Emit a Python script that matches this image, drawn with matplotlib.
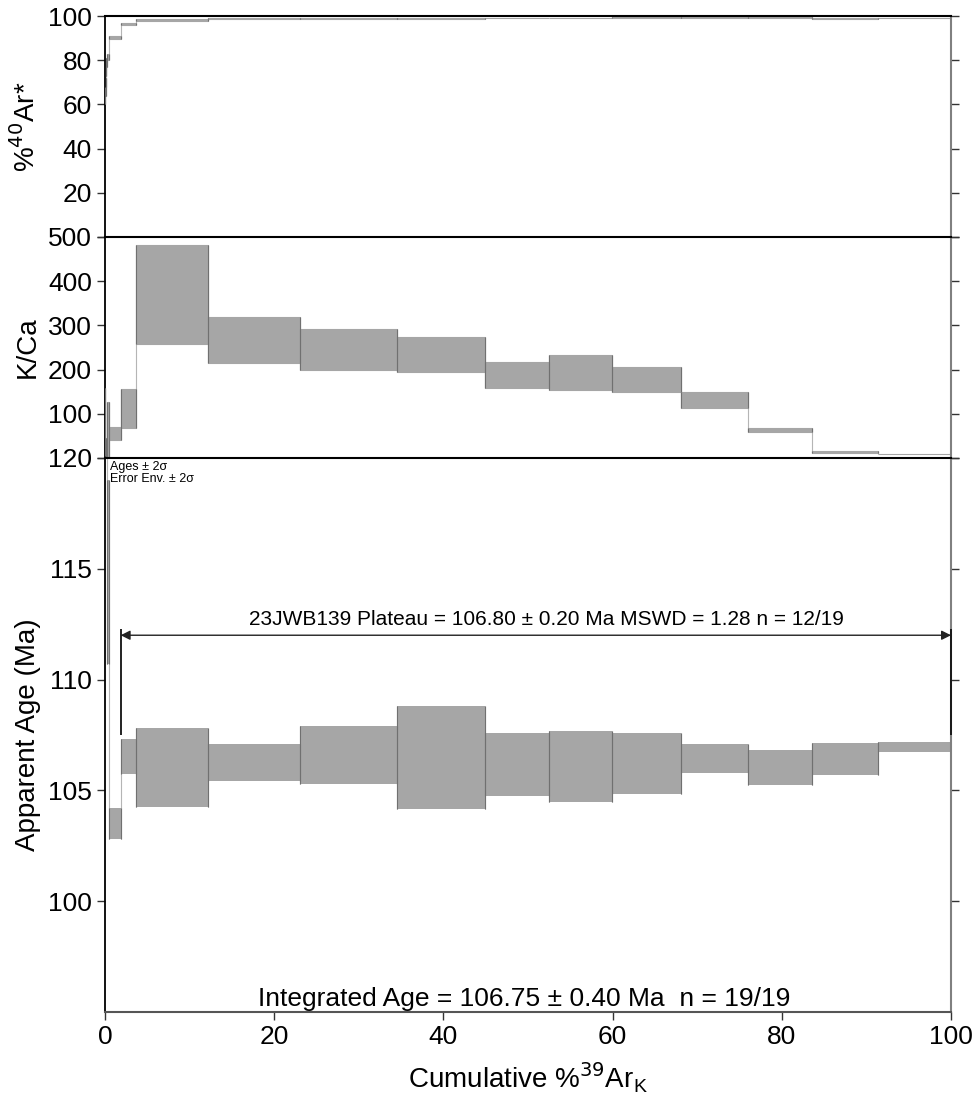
import numpy as np
import matplotlib.pyplot as plt

plt.rcParams['font.family'] = ['Liberation Sans', 'DejaVu Sans']

# cumulative %39ArK step edges, 19 heating steps
cum_edges = [0, 0.03, 0.07, 0.11, 0.16, 0.22, 0.48, 1.85, 3.7, 12.2, 23.0, 34.5,
             44.9, 52.5, 59.9, 68.1, 76.0, 83.6, 91.4, 100]

# %40Ar* (lower / upper)
ar40_lo = [60, 64, 68, 73, 77, 80, 89.5, 95.8, 97.9, 98.8, 98.7, 98.8, 98.9,
           98.9, 99.0, 99.0, 99.0, 98.7, 98.9]
ar40_hi = [64, 68, 72, 77, 81, 83, 90.8, 96.8, 98.6, 99.3, 99.1, 99.3, 99.3,
           99.3, 99.4, 99.4, 99.4, 99.1, 99.3]

# K/Ca (lower / upper)
kca_lo = [20, 5, 0, 2, 0, 0, 41, 68, 257, 214, 199, 194, 158, 153, 149, 113, 59, 11, 8]
kca_hi = [158, 45, 40, 42, 38, 126, 70, 156, 481, 318, 291, 273, 217, 232, 205, 149, 68, 15, 10]

# apparent age, Ma (lower / upper, 2 sigma)
age_lo = [128, 124, 122, 121, 120.5, 110.7, 102.8, 105.75, 104.25, 105.4, 105.3, 104.16,
          104.76, 104.48, 104.84, 105.8, 105.25, 105.7, 106.74]
age_hi = [175, 150, 140, 133, 126, 119.0, 104.2, 107.3, 107.8, 107.1, 107.9, 108.8,
          107.6, 107.7, 107.6, 107.1, 106.83, 107.15, 107.19]

plateau_start = 1.85
plateau_age = 112.0

FILL = '#a6a6a6'


def draw_steps(ax, lo, hi, thin=False):
    x = np.array(cum_edges[:-1])
    w = np.diff(cum_edges)
    lo = np.array(lo, dtype=float)
    hi = np.array(hi, dtype=float)
    # connecting lines between steps
    for i in range(len(lo) - 1):
        ax.vlines(cum_edges[i + 1], min(lo[i], lo[i + 1]), max(hi[i], hi[i + 1]),
                  color='#b5b5b5', lw=0.8, zorder=1)
    if thin:
        ax.bar(x, hi - lo, bottom=lo, width=w, align='edge', color=FILL,
               edgecolor=FILL, lw=0.8, zorder=2)
    else:
        ax.bar(x, hi - lo, bottom=lo, width=w, align='edge', color=FILL,
               edgecolor='none', zorder=2)
    ax.vlines(x, lo, hi, color='#707070', lw=0.8, zorder=3)
    ax.vlines(x + w, lo, hi, color='#707070', lw=0.8, zorder=3)


fig = plt.figure(figsize=(9.75, 10.99), dpi=100)
L, W = 0.1077, 0.8677
ax1 = fig.add_axes([L, 0.7843, W, 0.2011])
ax2 = fig.add_axes([L, 0.5833, W, 0.2011])
ax3 = fig.add_axes([L, 0.0792, W, 0.5041])

for ax in (ax1, ax2, ax3):
    ax.set_xlim(0, 100)
    ax.tick_params(direction='out', length=6, width=1, labelsize=19, right=True,
                   color='#333333')
    ax.spines['left'].set_linewidth(1.3)
    ax.spines['right'].set_color('#808080')
    ax.spines['right'].set_linewidth(1.5)
    ax.spines['top'].set_linewidth(1.5)
    ax.yaxis.set_label_coords(-0.076, 0.5)

# top panel
draw_steps(ax1, ar40_lo, ar40_hi, thin=True)
ax1.set_ylim(0, 100)
ax1.set_yticks([0, 20, 40, 60, 80, 100])
ax1.set_yticklabels(['', '20', '40', '60', '80', '100'])
ax1.tick_params(bottom=False, labelbottom=False)
ax1.spines['bottom'].set_visible(False)
ax1.set_ylabel('%$^{40}$Ar*', fontsize=20)

# middle panel
draw_steps(ax2, kca_lo, kca_hi, thin=True)
ax2.set_ylim(0, 500)
ax2.set_yticks([0, 100, 200, 300, 400, 500])
ax2.set_yticklabels(['', '100', '200', '300', '400', '500'])
ax2.tick_params(bottom=False, labelbottom=False)
ax2.spines['bottom'].set_visible(False)
ax2.set_ylabel('K/Ca', fontsize=20)

# bottom panel
draw_steps(ax3, age_lo, age_hi)
ax3.set_ylim(95, 120)
ax3.set_yticks([100, 105, 110, 115, 120])
ax3.set_xticks([0, 20, 40, 60, 80, 100])
ax3.spines['bottom'].set_color('#555555')
ax3.spines['bottom'].set_linewidth(1.5)
ax3.set_ylabel('Apparent Age (Ma)', fontsize=20)
ax3.set_xlabel('Cumulative %$^{39}$Ar$_\\mathregular{K}$', fontsize=20, labelpad=8)

ax3.text(0.6, 119.85, 'Ages \u00b1 2\u03c3\nError Env. \u00b1 2\u03c3', fontsize=9,
         va='top', ha='left', linespacing=1.0)

# plateau arrow
ax3.annotate('', xy=(100, plateau_age), xytext=(plateau_start, plateau_age),
             arrowprops=dict(arrowstyle='<|-|>', color='#222222', lw=1.0,
                             mutation_scale=14, shrinkA=0, shrinkB=0), zorder=5)
ax3.vlines([plateau_start, 100], 107.5, 112.3, color='#111111', lw=1.3, zorder=5,
           clip_on=False)
ax3.text(52.2, plateau_age + 0.3,
         '23JWB139 Plateau = 106.80 \u00b1 0.20 Ma MSWD = 1.28 n = 12/19',
         fontsize=15, ha='center', va='bottom')
ax3.text(49.6, 95.25, 'Integrated Age = 106.75 \u00b1 0.40 Ma  n = 19/19',
         fontsize=19, ha='center', va='baseline')

fig.savefig('out.png', dpi=100)
